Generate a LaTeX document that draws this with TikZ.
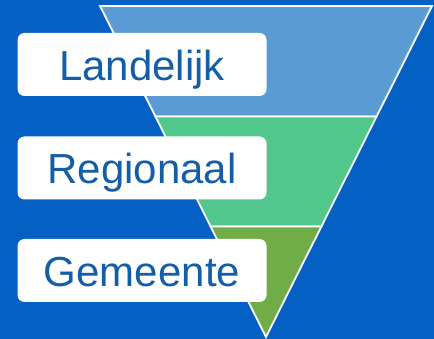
\documentclass[tikz,border=0pt]{standalone}
\usepackage{fontspec}
\setmainfont{Liberation Sans}
\definecolor{bgblue}{RGB}{4,96,194}
\definecolor{bandblue}{RGB}{91,155,213}
\definecolor{bandmint}{RGB}{81,199,141}
\definecolor{bandgreen}{RGB}{112,173,71}
\definecolor{txtblue}{RGB}{20,94,168}
\begin{document}
\begin{tikzpicture}[x=1pt,y=-1pt,
  band/.style={draw=white,line width=1.8pt,line join=miter},
  lbl/.style={fill=white,rounded corners=7pt,minimum width=249pt,minimum height=63pt,
    inner sep=0pt,text height=32pt,text depth=0pt,text=txtblue,font=\fontsize{42}{48}\selectfont}]
\fill[bgblue] (0,0) rectangle (434,339);
\useasboundingbox (0,0) rectangle (434,339);
\coordinate (tl) at (100,6);
\coordinate (tr) at (432,6);
\coordinate (ml1) at (155.4,116.5);
\coordinate (mr1) at (376.6,116.5);
\coordinate (ml2) at (210.6,226.5);
\coordinate (mr2) at (321.4,226.5);
\coordinate (apex) at (266,337);
\filldraw[band,fill=bandblue] (tl) -- (tr) -- (mr1) -- (ml1) -- cycle;
\filldraw[band,fill=bandmint] (ml1) -- (mr1) -- (mr2) -- (ml2) -- cycle;
\filldraw[band,fill=bandgreen] (ml2) -- (mr2) -- (apex) -- cycle;
\node[lbl] (landelijk) at (142,64.5) {Landelijk};
\node[lbl] (regionaal) at (142,168) {Regionaal};
\node[lbl] (gemeente) at (142,270.5) {Gemeente};
\end{tikzpicture}
\end{document}
